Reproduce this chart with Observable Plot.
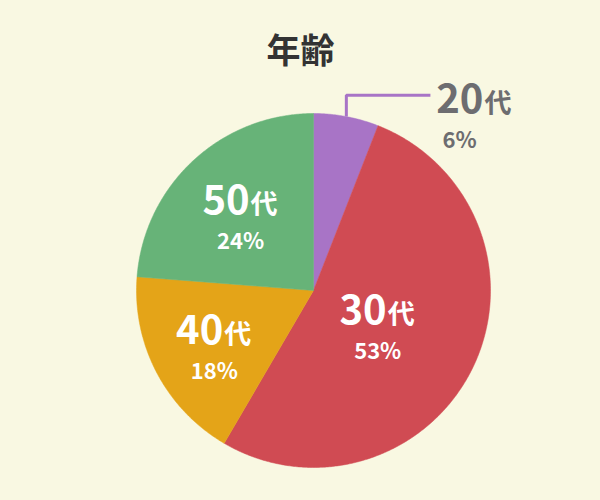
<!DOCTYPE html>
<html>
<head>
<meta charset="utf-8">
<script src="https://cdn.jsdelivr.net/npm/d3@7"></script>
<script src="https://cdn.jsdelivr.net/npm/@observablehq/plot@0.6"></script>
<style>
  html, body { margin: 0; padding: 0; background: #f9f8e2; }
  #chart svg { display: block; }
</style>
</head>
<body>
<div id="chart"></div>
<script>
// ---- data ----
const chartTitle = "年齢";
const categories = ["20代", "30代", "40代", "50代"];
const shares = [6, 53, 18, 24];
const colors = ["#a874c6", "#d04b53", "#e4a418", "#67b378"];

// ---- layout constants ----
const FONT = "'Noto Sans CJK JP', 'Noto Sans', sans-serif";
const outsideThreshold = 10;   // slices below this share get an outside label
const leaderRise = 0.12;       // in radius units
const leaderRun = 0.475;

const rows = categories.map((name, i) => ({
  name,
  num: name.slice(0, -1),
  suffix: name.slice(-1),
  share: shares[i],
  pct: shares[i] + "%"
}));

const arcs = d3.pie().sort(null).value(d => d.share)(rows);

// polygon vertices for each slice (unit radius, 0 at top, clockwise)
const slicePts = arcs.flatMap(a => {
  const n = Math.max(2, Math.ceil((a.endAngle - a.startAngle) / (Math.PI / 360)));
  const pts = [{name: a.data.name, x: 0, y: 0}];
  for (let k = 0; k <= n; k++) {
    const t = a.startAngle + (a.endAngle - a.startAngle) * k / n;
    pts.push({name: a.data.name, x: Math.sin(t), y: Math.cos(t)});
  }
  pts.push({name: a.data.name, x: 0, y: 0});
  return pts;
});

// inside labels at slice centroids
const inside = arcs.filter(a => a.data.share >= outsideThreshold).map(a => {
  const th = a.endAngle - a.startAngle;
  const mid = (a.startAngle + a.endAngle) / 2;
  const d = 4 * Math.sin(th / 2) / (3 * th);
  return {...a.data, x: d * Math.sin(mid), y: d * Math.cos(mid)};
});

// outside labels with elbow leader lines
const outside = arcs.filter(a => a.data.share < outsideThreshold).map(a => {
  const mid = (a.startAngle + a.endAngle) / 2;
  const ex = Math.sin(mid), ey = Math.cos(mid);
  return {...a.data, ex, ey, ky: ey + leaderRise, kx: ex + leaderRun};
});
const leaderPts = outside.flatMap(o => [
  {name: o.name, x: o.ex, y: o.ey},
  {name: o.name, x: o.ex, y: o.ky},
  {name: o.name, x: o.kx, y: o.ky}
]);

const chart = Plot.plot({
  width: 600,
  height: 500,
  margin: 0,
  style: {background: "#f9f8e2", fontFamily: FONT},
  x: {domain: [-1, 1], range: [136, 490], axis: null},
  y: {domain: [-1, 1], range: [467, 113], axis: null},
  color: {domain: categories, range: colors},
  marks: [
    Plot.text([chartTitle], {frameAnchor: "top", lineAnchor: "bottom", dy: 62, text: d => d,
      fontSize: 34, fontWeight: "bold", fill: "#333333"}),
    Plot.line(slicePts, {x: "x", y: "y", z: "name", fill: "name", stroke: "name", strokeWidth: 0.5, curve: "linear"}),
    Plot.line(leaderPts, {x: "x", y: "y", z: "name", stroke: "name", strokeWidth: 3, strokeLinejoin: "miter", strokeLinecap: "butt"}),
    // inside labels
    Plot.text(inside, {x: "x", y: "y", text: "num", textAnchor: "end", lineAnchor: "bottom", dx: 9, dy: 2,
      fontSize: 40, fontWeight: "bold", fill: "white"}),
    Plot.text(inside, {x: "x", y: "y", text: "suffix", textAnchor: "start", lineAnchor: "bottom", dx: 10, dy: 2,
      fontSize: 27, fontWeight: "bold", fill: "white"}),
    Plot.text(inside, {x: "x", y: "y", text: "pct", textAnchor: "middle", lineAnchor: "bottom", dy: 37,
      fontSize: 22, fontWeight: "bold", fill: "white"}),
    // outside labels
    Plot.text(outside, {x: "kx", y: "ky", text: "num", textAnchor: "end", lineAnchor: "bottom", dx: 53, dy: 18,
      fontSize: 40, fontWeight: "bold", fill: "#6d6d70"}),
    Plot.text(outside, {x: "kx", y: "ky", text: "suffix", textAnchor: "start", lineAnchor: "bottom", dx: 54, dy: 18,
      fontSize: 27, fontWeight: "bold", fill: "#6d6d70"}),
    Plot.text(outside, {x: "kx", y: "ky", text: "pct", textAnchor: "start", lineAnchor: "bottom", dx: 12, dy: 53,
      fontSize: 22, fontWeight: "bold", fill: "#6d6d70"})
  ]
});
document.getElementById("chart").append(chart);
</script>
</body>
</html>
